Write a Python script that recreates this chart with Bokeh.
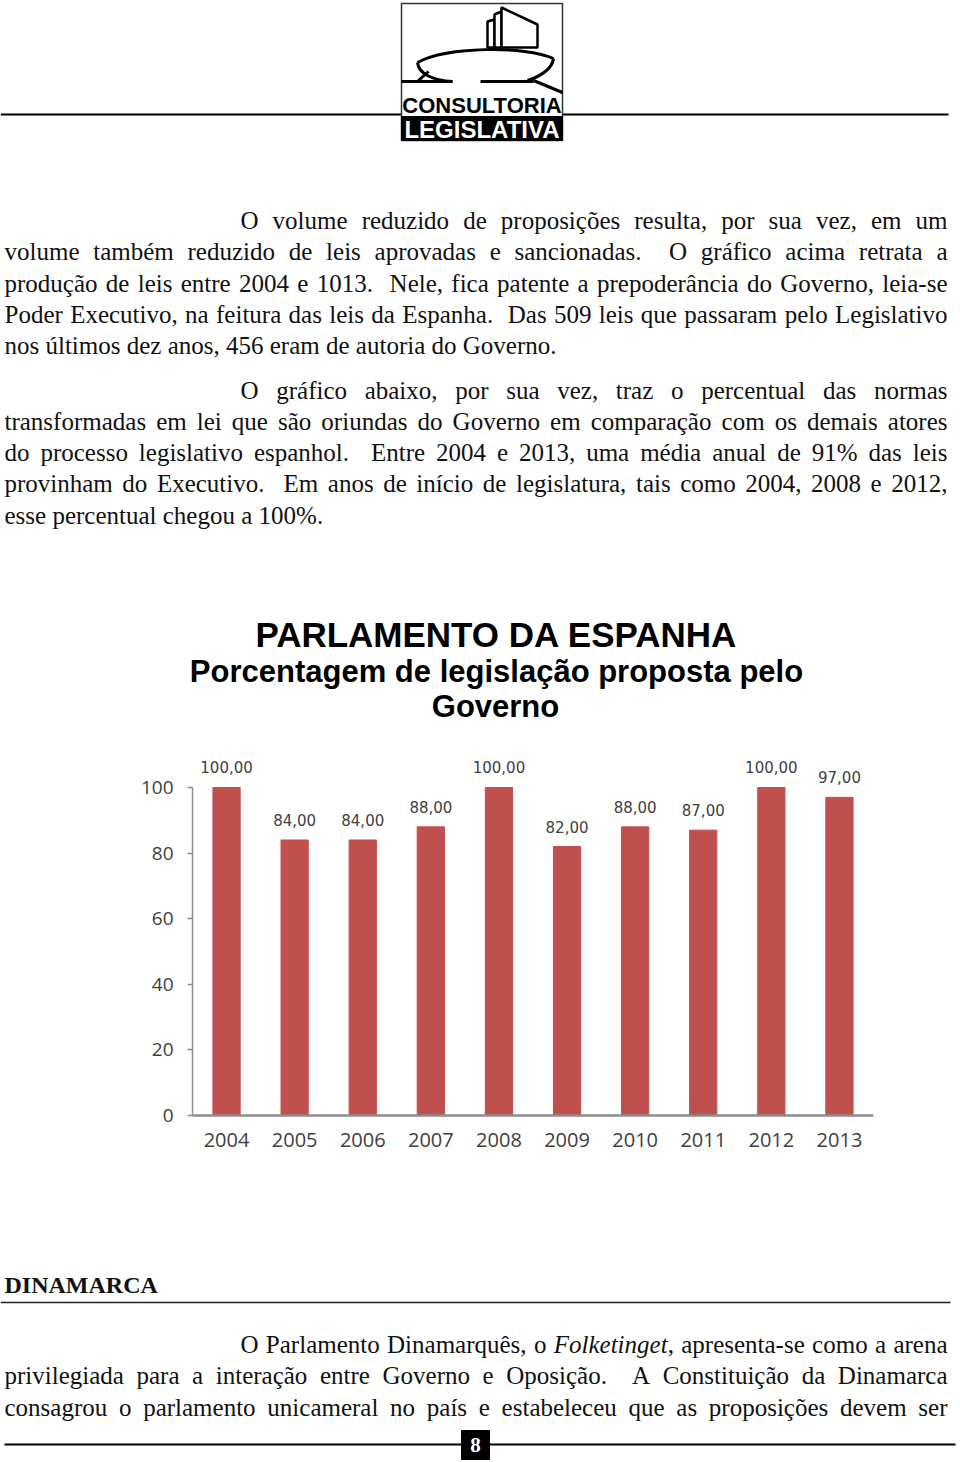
import unicodedata
from bokeh.plotting import figure
from bokeh.models import Range1d, FactorRange, FixedTicker, ColumnDataSource
from bokeh.layouts import column
from bokeh.core.properties import value
from bokeh.embed import file_html
from bokeh.resources import INLINE

# ---------------- chart data ----------------
years = ["2004", "2005", "2006", "2007", "2008", "2009", "2010", "2011", "2012", "2013"]
percent = [100, 84, 84, 88, 100, 82, 88, 87, 100, 97]
y_ticks = [0, 20, 40, 60, 80, 100]
bar_labels = [f"{v:.2f}".replace(".", ",") for v in percent]

chart_title = ["PARLAMENTO DA ESPANHA",
               "Porcentagem de legislação proposta pelo",
               "Governo"]

# ---------------- page text ----------------
logo_top = "CONSULTORIA"
logo_bottom = "LEGISLATIVA"

para1 = [
    "O volume reduzido de proposições resulta, por sua vez, em um",
    "volume também reduzido de leis aprovadas e sancionadas.  O gráfico acima retrata a",
    "produção de leis entre 2004 e 1013.  Nele, fica patente a prepoderância do Governo, leia-se",
    "Poder Executivo, na feitura das leis da Espanha.  Das 509 leis que passaram pelo Legislativo",
    "nos últimos dez anos, 456 eram de autoria do Governo.",
]
para2 = [
    "O gráfico abaixo, por sua vez, traz o percentual das normas",
    "transformadas em lei que são oriundas do Governo em comparação com os demais atores",
    "do processo legislativo espanhol.  Entre 2004 e 2013, uma média anual de 91% das leis",
    "provinham do Executivo.  Em anos de início de legislatura, tais como 2004, 2008 e 2012,",
    "esse percentual chegou a 100%.",
]
heading = "DINAMARCA"
para3 = [
    "O Parlamento Dinamarquês, o /Folketinget/, apresenta-se como a arena",
    "privilegiada para a interação entre Governo e Oposição.  A Constituição da Dinamarca",
    "consagrou o parlamento unicameral no país e estabeleceu que as proposições devem ser",
]
page_number = "8"

# ---------------- styling ----------------
SERIF = value("Liberation Serif")
SANS = value("Liberation Sans")
BODY_SIZE = 25
BAR_COLOR = "#C0504D"
AXIS_GRAY = "#8c8c8c"
LABEL_GRAY = "#404040"
PAGE_W = 960

WIDTHS = {' ': 250, 'a': 444, 'b': 500, 'c': 444, 'd': 500, 'e': 444, 'f': 333, 'g': 500,
          'h': 500, 'i': 278, 'j': 278, 'k': 500, 'l': 278, 'm': 778, 'n': 500, 'o': 500,
          'p': 500, 'q': 500, 'r': 333, 's': 389, 't': 278, 'u': 500, 'v': 500, 'w': 722,
          'x': 500, 'y': 500, 'z': 444,
          'A': 722, 'B': 667, 'C': 667, 'D': 722, 'E': 611, 'F': 556, 'G': 722, 'H': 722,
          'I': 333, 'J': 389, 'K': 722, 'L': 611, 'M': 889, 'N': 722, 'O': 722, 'P': 556,
          'Q': 722, 'R': 667, 'S': 556, 'T': 611, 'U': 722, 'V': 722, 'W': 944, 'X': 722,
          'Y': 722, 'Z': 611, ',': 250, '.': 250, '-': 333, '%': 833, ':': 278, ';': 278}


def tw(s, size):
    tot = 0
    for ch in s:
        base = unicodedata.normalize("NFD", ch)[0]
        tot += 500 if base.isdigit() else WIDTHS.get(base, 500)
    return tot / 1000.0 * size


def new_bucket():
    return {"x": [], "y": [], "text": []}


def set_line(line, x0, x1, y, justify, size, roman, italic, right):
    tokens = line.split(" ")
    pieces = []
    for t in tokens:
        if t.startswith("/"):
            _, it, rest = t.split("/")
            pieces.append([(it, True), (rest, False)])
        else:
            pieces.append([(t, False)])
    widths = [sum(tw(s, size) for s, _ in pc) for pc in pieces]
    nsp = len(tokens) - 1
    gap = (x1 - x0 - sum(widths)) / nsp if (justify and nsp) else tw(" ", size)
    x = x0
    for i, pc in enumerate(pieces):
        if justify and nsp and i == len(pieces) - 1 and len(pc) == 1:
            right["x"].append(x1); right["y"].append(y); right["text"].append(pc[0][0])
            break
        xx = x
        for s, it in pc:
            if s:
                b = italic if it else roman
                b["x"].append(xx); b["y"].append(y); b["text"].append(s)
            xx += tw(s, size)
        x += widths[i] + gap


def set_paragraph(lines, first_y, step, buckets):
    for k, ln in enumerate(lines):
        x0 = 240 if k == 0 else 4
        just = k < len(lines) - 1 or len(lines) == 3
        set_line(ln, x0, 947, first_y + k * step, just, BODY_SIZE, *buckets)


def draw_buckets(p, buckets):
    roman, italic, right = buckets
    common = dict(text_font=SERIF, text_font_size=f"{BODY_SIZE}px", text_color="#111111",
                  text_baseline="middle")
    p.text(x="x", y="y", text="text", source=ColumnDataSource(roman), text_align="left", **common)
    if italic["x"]:
        p.text(x="x", y="y", text="text", source=ColumnDataSource(italic), text_align="left",
               text_font_style="italic", **common)
    p.text(x="x", y="y", text="text", source=ColumnDataSource(right), text_align="right", **common)


def page_fig(height, ytop, ybot):
    p = figure(width=PAGE_W, height=height, x_range=Range1d(0, PAGE_W), y_range=Range1d(ybot, ytop),
               output_backend="svg", toolbar_location=None, min_border=0,
               x_axis_location=None, y_axis_location=None, frame_align=False)
    p.outline_line_color = None
    p.background_fill_color = "white"
    p.border_fill_color = "white"
    p.grid.grid_line_color = None
    return p


# ================= Top page figure =================
top = page_fig(740, 0, 740)

# horizontal rule
top.segment(x0=[0, 562], y0=[114, 114], x1=[401, 948], y1=[114, 114], line_color="black", line_width=2)

# logo
top.quad(left=[401], right=[562], top=[3], bottom=[140], fill_color="white", line_color="#333333",
         line_width=1.5)
top.patches(xs=[[487, 487, 494, 494], [494, 494, 501, 501], [501, 501, 537, 537]],
            ys=[[47, 21, 19, 47], [47, 14, 11, 47], [47, 7, 24, 47]],
            fill_color="white", line_color="black", line_width=2.5)
top.bezier(x0=[417, 417, 553], y0=[62, 62, 58], x1=[553, 452, 527], y1=[58, 81, 80],
           cx0=[445, 418, 552], cy0=[46, 73, 68], cx1=[525, 432, 540], cy1=[45, 80, 76],
           line_color="black", line_width=3)
top.segment(x0=[401, 480, 533, 417], y0=[81, 81, 80, 81], x1=[452, 533, 562, 428], y1=[81, 81, 92, 71],
            line_color="black", line_width=3)
top.quad(left=[401], right=[562], top=[116], bottom=[140], fill_color="black", line_color="black")
top.text(x=[481.5], y=[105], text=[logo_top], text_font=SANS, text_font_size="22px",
         text_font_style="bold", text_align="center", text_baseline="middle", text_color="black")
top.text(x=[481.5], y=[129], text=[logo_bottom], text_font=SANS, text_font_size="24px",
         text_font_style="bold", text_align="center", text_baseline="middle", text_color="white")

# paragraphs
b1 = (new_bucket(), new_bucket(), new_bucket())
set_paragraph(para1, 220, 31.3, b1)
set_paragraph(para2, 389.5, 31.3, b1)
draw_buckets(top, b1)

# chart title
top.text(x=[496], y=[634], text=[chart_title[0]], text_font=SANS, text_font_size="35px",
         text_font_style="bold", text_align="center", text_baseline="middle", text_color="black")
top.text(x=[496, 495], y=[671, 706], text=chart_title[1:], text_font=SANS, text_font_size="31px",
         text_font_style="bold", text_align="center", text_baseline="middle", text_color="black")

# ================= Chart figure =================
src = ColumnDataSource(dict(year=years, pct=percent, label=bar_labels))
chart = figure(width=PAGE_W, height=460, x_range=FactorRange(factors=years), y_range=Range1d(0, 110.67),
               output_backend="svg", toolbar_location=None, frame_align=False,
               min_border_left=192, min_border_right=87, min_border_top=12, min_border_bottom=85)
chart.outline_line_color = None
chart.background_fill_color = "white"
chart.border_fill_color = "white"
chart.grid.grid_line_color = None
chart.vbar(x="year", top="pct", width=0.4, source=src, fill_color=BAR_COLOR, line_color=BAR_COLOR)
chart.text(x="year", y="pct", text="label", source=src, text_font=value("DejaVu Sans"),
           text_font_size="15px", text_color=LABEL_GRAY, text_align="center",
           text_baseline="middle", y_offset=-20)

yax = chart.yaxis[0]
yax.ticker = FixedTicker(ticks=y_ticks)
yax.bounds = (0, 100)
yax.axis_line_color = AXIS_GRAY
yax.axis_line_width = 1.5
yax.major_tick_line_color = AXIS_GRAY
yax.major_tick_line_width = 1.5
yax.major_tick_out = 5
yax.major_tick_in = 0
yax.minor_tick_line_color = None
yax.major_label_standoff = 14
yax.major_label_text_font = "Open Sans"
yax.major_label_text_font_size = "19px"
yax.major_label_text_color = LABEL_GRAY

xax = chart.xaxis[0]
xax.axis_line_color = AXIS_GRAY
xax.axis_line_width = 2.5
xax.major_tick_line_color = None
xax.major_tick_out = 0
xax.major_tick_in = 0
xax.minor_tick_line_color = None
xax.major_label_standoff = 17
xax.major_label_text_font = "Open Sans"
xax.major_label_text_font_size = "20px"
xax.major_label_text_color = LABEL_GRAY

# ================= Bottom page figure =================
bot = page_fig(262, 1200, 1462)
bot.text(x=[4], y=[1284], text=[heading], text_font=SERIF, text_font_size="24px",
         text_font_style="bold", text_align="left", text_baseline="middle", text_color="#111111")
bot.segment(x0=[0], y0=[1302], x1=[950], y1=[1302], line_color="#222222", line_width=1.5)
b3 = (new_bucket(), new_bucket(), new_bucket())
set_paragraph(para3, 1344, 31.4, b3)
draw_buckets(bot, b3)
bot.segment(x0=[4, 489], y0=[1444, 1444], x1=[461, 955], y1=[1444, 1444], line_color="black", line_width=2)
bot.quad(left=[461], right=[489], top=[1430], bottom=[1459], fill_color="black", line_color="black")
bot.text(x=[475], y=[1444], text=[page_number], text_font=SERIF, text_font_size="21px",
         text_font_style="bold", text_align="center", text_baseline="middle", text_color="white")

layout = column(top, chart, bot, spacing=0)
open("out.html", "w").write(file_html(layout, INLINE))
